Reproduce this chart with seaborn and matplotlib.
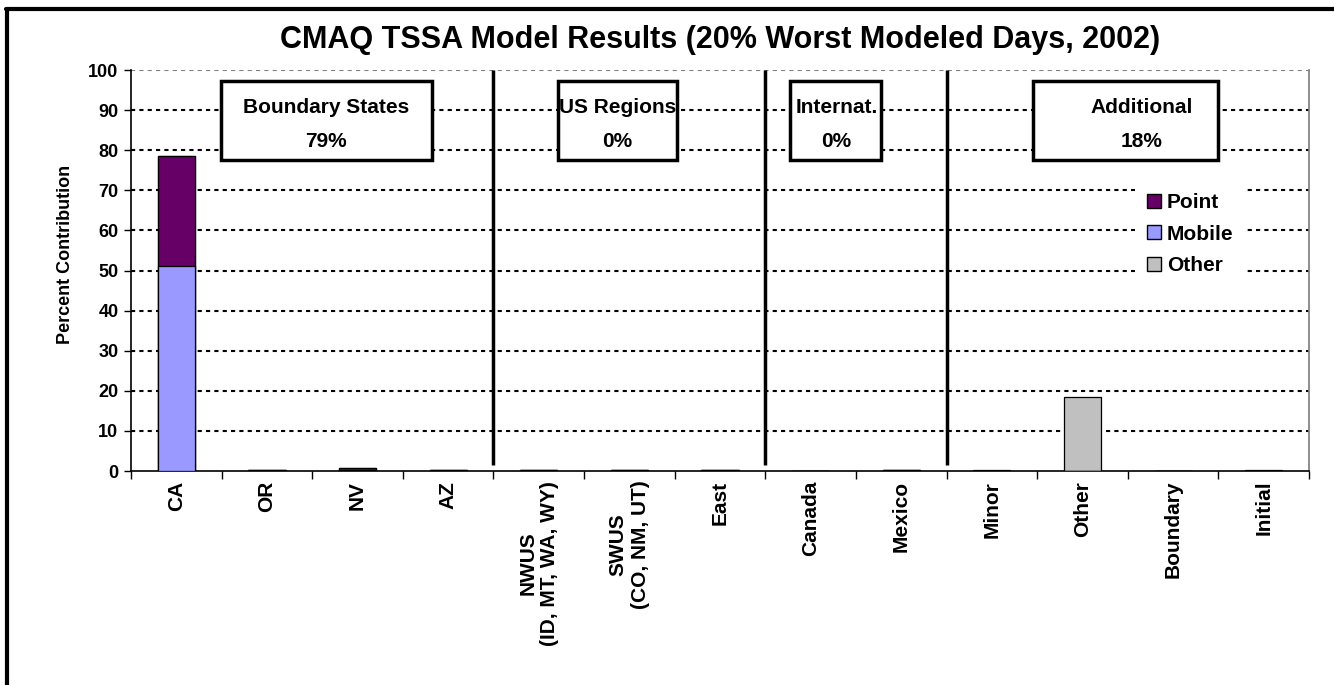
import pandas as pd
import matplotlib.pyplot as plt
from matplotlib.patches import Patch, Rectangle
from matplotlib.lines import Line2D
import seaborn as sns

# ── Data ──────────────────────────────────────────────────────────
categories = ["CA", "OR", "NV", "AZ", "NWUS\n(ID, MT, WA, WY)", "SWUS\n(CO, NM, UT)",
              "East", "Canada", "Mexico", "Minor", "Other", "Boundary", "Initial"]
point = [27.5, 0.1, 0.6, 0.1, 0.1, 0.1, 0.1, 0.0, 0.1, 0.1, 0.0, 0.0, 0.0]
mobile = [51.0, 0.2, 0.2, 0.2, 0.2, 0.2, 0.2, 0.0, 0.2, 0.0, 0.0, 0.0, 0.0]
other = [0.0, 0.0, 0.0, 0.0, 0.0, 0.0, 0.0, 0.0, 0.0, 0.2, 18.4, 0.0, 0.3]

group_names = ["Boundary States", "US Regions", "Internat.", "Additional"]
group_pcts = ["79%", "0%", "0%", "18%"]
group_breaks = [3.5, 6.5, 8.5]

POINT_C, MOBILE_C, OTHER_C = "#660066", "#9999FF", "#C0C0C0"

df = pd.DataFrame({"cat": categories, "point": point, "mobile": mobile, "other": other})
df["mp"] = df["mobile"] + df["point"]
df["total"] = df["mp"] + df["other"]

sns.set_theme(style="ticks")
plt.rcParams["font.family"] = ["Liberation Sans", "DejaVu Sans"]
plt.rcParams["font.weight"] = "bold"
for k in ["text.color", "axes.labelcolor", "xtick.color", "ytick.color"]:
    plt.rcParams[k] = "black"

fig = plt.figure(figsize=(13.34, 6.85), dpi=100)
ax = fig.add_axes([0.0982, 0.3124, 0.8831, 0.5854])

# gridlines
for v in range(10, 101, 10):
    ax.axhline(v, color="black" if v < 100 else "#808080", lw=1.5,
               ls=(0, (2, 2)), zorder=0)

# stacked bars (drawn back to front)
bar_kw = dict(x="cat", order=categories, width=0.41, edgecolor="black",
              linewidth=0.9, ax=ax, zorder=3, saturation=1)
sns.barplot(data=df, y="total", color=OTHER_C, **bar_kw)
sns.barplot(data=df, y="mp", color=POINT_C, **bar_kw)
sns.barplot(data=df, y="mobile", color=MOBILE_C, **bar_kw)

# group separators
ax.vlines(group_breaks, 1.5, 100, color="black", lw=2.5, zorder=2)

# group label boxes
boxes = [(0.49, 2.82), (4.21, 5.53), (6.77, 7.78), (9.45, 11.49)]
text_x = [1.655, 4.87, 7.285, 10.65]
for (x0, x1), tx, name, pct in zip(boxes, text_x, group_names, group_pcts):
    ax.add_patch(Rectangle((x0, 77.6), x1 - x0, 19.7, facecolor="white",
                           edgecolor="black", lw=2.5, zorder=4))
    ax.text(tx, 90.6, name, ha="center", va="center",
            fontsize=15, fontweight="bold", zorder=5)
    ax.text(tx, 82.2, pct, ha="center", va="center",
            fontsize=15, fontweight="bold", zorder=5)

ax.set_xlim(-0.5, len(categories) - 0.5)
ax.set_ylim(0, 100)
ax.set_yticks(range(0, 101, 10))
ax.tick_params(axis="y", labelsize=13, length=5, width=1, direction="out", pad=4)
for t in ax.get_yticklabels():
    t.set_fontweight("bold")

ax.set_xticks(range(len(categories)))
ax.set_xticklabels(categories, rotation=90, fontsize=15, fontweight="bold",
                   ha="center", va="top", multialignment="center")
ax.tick_params(axis="x", length=0, pad=7)
ax.set_xticks([i - 0.5 for i in range(len(categories) + 1)], minor=True)
ax.tick_params(axis="x", which="minor", length=6, width=1, direction="out")

ax.set_xlabel("")
ax.set_ylabel("Percent Contribution", fontsize=13, fontweight="bold")
ax.yaxis.set_label_coords(-0.0484, 0.539)
ax.set_title("CMAQ TSSA Model Results (20% Worst Modeled Days, 2002)",
             fontsize=22, fontweight="bold", pad=16)

ax.spines["top"].set_visible(False)
ax.spines["right"].set_color("#808080")
for s in ["left", "bottom"]:
    ax.spines[s].set_color("black")
    ax.spines[s].set_linewidth(1.2)

handles = [Patch(facecolor=c, edgecolor="black", label=l)
           for c, l in [(POINT_C, "Point"), (MOBILE_C, "Mobile"), (OTHER_C, "Other")]]
leg = ax.legend(handles=handles, loc="center left", bbox_to_anchor=(0.852, 0.591),
                frameon=True, facecolor="white", edgecolor="none", framealpha=1,
                fancybox=False, borderpad=0.6, handlelength=0.65, handleheight=0.65,
                handletextpad=0.3, labelspacing=0.6, borderaxespad=0,
                prop={"size": 15, "weight": "bold"})

# outer frame
fig.add_artist(Line2D([0.0045, 1.0], [0.987, 0.987], color="black", lw=3,
                      transform=fig.transFigure))
fig.add_artist(Line2D([0.0053, 0.0053], [0.987, 0.0], color="black", lw=3,
                      transform=fig.transFigure))

fig.savefig("out.png", dpi=100)
